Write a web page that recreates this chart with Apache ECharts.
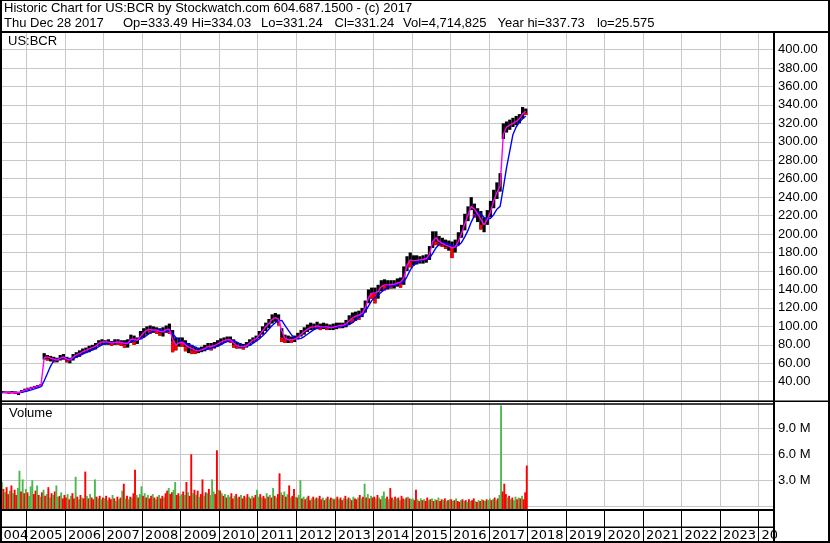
<!DOCTYPE html>
<html><head><meta charset="utf-8">
<script src="https://cdn.jsdelivr.net/npm/echarts@6/dist/echarts.min.js"></script>
<style>html,body{margin:0;padding:0;background:#fff}#c{width:830px;height:543px}</style>
</head><body><div id="c"></div>
<script>
const symbolName = 'US:BCR';
const volumeTitle = 'Volume';
const titleLine1 = 'Historic Chart for US:BCR by Stockwatch.com 604.687.1500 - (c) 2017';
const titleFields = ['Thu Dec 28 2017', 'Op=333.49', 'Hi=334.03', 'Lo=331.24', 'Cl=331.24', 'Vol=4,714,825', 'Year hi=337.73', 'lo=25.575'];

// monthly series, first month = May 2004 (last = Dec 2017)
const firstYear = 2004, firstMonthIndex = 4;
const priceLow = [
 27.5,27.5,27,27.5,27,25.6,28,29.5,
 31,32,33,34,35,64,63,62,61,61,63,64,
 61,60,63,66,67,70,71,72,74,75,79,80,
 80,80,79,80,80,79,77,77,82,80,81,86,
 88,91,92,93,92,90,89,93,92,72,74,78,
 78,73,71,70,70,71,72,73,75,74,76,78,
 80,82,83,82,77,76,76,75,77,79,82,84,
 87,91,95,98,103,105,101,83,82,82,82,83,
 86,89,91,94,96,96,97,96,97,96,96,96,
 97,98,98,99,102,104,106,107,110,115,125,130,
 125,130,138,139,140,141,141,143,142,145,160,164,
 166,167,168,168,169,172,185,188,187,186,184,182,
 174,180,188,196,204,214,226,218,213,205,202,210,
 218,228,238,246,303,310,313,316,318,320,325,329];
const priceHigh = [
 30,29.5,29.5,30,29.5,29,31,32.5,
 33.5,34.5,35.5,36.5,37.5,71,69,68,67,66,69,70,
 67,66,70,72,74,76,77,79,80,82,85,86,
 85,86,84,86,86,85,85,86,91,90,88,95,
 98,100,101,100,99,98,99,101,103,96,88,88,
 88,85,82,80,78,77,78,80,82,82,83,85,
 87,88,89,89,86,83,82,81,83,86,88,90,
 95,100,104,108,113,114.5,113,98,91,90,89,90,
 93,96,99,102,104,103,105,103,104,103,102,103,
 104,104,104,107,112,115,116,117,120,128,140,142,
 142,145,150,151,150,150,150,152,153,165,176,180,
 177,177,176,177,178,187,203,203,198,196,194,193,
 192,194,202,210,222,230,240,233,228,225,218,226,
 236,248,256,266,320,322,324,326,328,330,337.7,336];
const priceClose = [
 28.5,28.5,28,29,28,28.5,30.5,31.5,
 33,33.5,34.5,35.5,36.5,67,65,66,63,64,68,66,
 63,64,68,70,71,73,75,77,77,80,83,83,
 83,84,81,84,83,82,80,84,88,84,86,93,
 95,97,95,97,95,93,96,97,94,84,80,84,
 82,78,78,74,73,74,75,78,79,78,81,82,
 84,85,86,84,80,78,79,77,81,84,85,88,
 93,98,101,106,110,110,104,88,86,86,85,87,
 91,93,97,99,99,101,100,98,101,98,99,100,
 102,100,102,105,109,108,113,110,116,125,137,136,
 135,142,146,144,146,145,148,149,147,162,172,170,
 171,172,172,173,175,185,198,192,190,188,186,189,
 185,190,198,207,218,226,232,222,222,210,214,223,
 232,244,248,258,315,318,320,321,324,326,334,331.24];
const maFast = [
 28.6,28.4,28.2,28.5,28.4,28.0,29.5,31.0,
 32.3,33.2,34.2,35.2,36.2,66,67,65.5,64.5,63.5,65.5,67,
 64.5,63.5,66.5,69,70.5,72.5,74,75.5,77,78.5,81.5,83,
 83,83,82,82.5,83,82.5,81.5,81.5,86,86,85,89,
 93,96,96.5,96,96,94.5,94,96.5,97,86,80,82,
 83,80,77.5,76,74,73.5,74.5,76,78,78.5,79,81,
 83,84.5,85.5,85.5,82,79,78,78,79,82,85,86.5,
 90.5,95,99.5,103,107.5,109.5,107.5,95,87,85.5,85.5,86,
 88,91.5,94.5,97,99,99.5,100.5,99.5,99.5,99.5,98.5,99,
 100,101,101,102.5,106,109,111,112,114,120,131,136,
 136,138,143,145,145,145.5,145.5,147,148,152,166,172,
 171,171.5,172,172.5,173.5,178,192,196,192,190,188,187,
 185,186,192,201,211,221,230,227,222,216,210,216,
 224,236,245,252,308,316,318,320,322,325,330,333];
const maSlow = [
 28.8,28.6,28.5,28.4,28.4,28.3,28.6,29.3,
 30.2,31.2,32.3,33.5,34.8,41,49,57,63,64.5,65,65.5,
 65.5,65,65.5,66.5,68,70,71.5,73,74.5,76,78,80,
 81.5,82.5,82.5,82.5,82.5,82.5,82.5,82,83,84.5,85.5,86.5,
 88,90.5,93,95,96,96,95.5,95,95.5,92,88,85,
 83,82,80.5,79,77.5,75.5,74.5,74.5,75.5,76.5,77.5,78.5,
 80,82,83.5,84.5,84.5,83,81,79,78.5,79.5,81.5,84,
 86.5,89.5,93,97,101,104,106,106.5,101,96,91,87.5,
 86.5,87,89,91.5,94,96.5,98,99,99.5,99.5,99,99,
 99,99.5,100,101,102,104,107,109.5,112,116,122,128,
 131,134,137,140,142,143.5,144.5,145.5,146.5,148,154,161,
 166,169,171,172,172.5,174,179,185,189,190.5,190,189,
 187.5,186.5,187.5,191,197,204,213,220,223,222,218,216,
 217,221,227,230,250,272,290,308,316,321,325,328];

// half-monthly volume (millions), first half of May 2004 onward
const volumeM = [
 2.8,2.0,1.6,2.2,1.4,1.8,2.4,1.5,1.9,1.3,2.1,4.1,1.7,3.1,1.5,2.0,
 1.6,1.2,2.3,3.0,1.4,1.8,2.4,1.3,1.1,1.6,1.9,1.2,1.4,2.2,1.0,1.5,1.3,1.7,2.4,1.1,1.2,1.6,0.9,1.3,
 1.0,1.4,0.8,1.2,1.5,0.9,3.4,1.1,0.8,1.3,1.0,0.9,4.0,1.2,0.9,1.4,1.0,0.8,3.1,1.1,0.9,1.2,0.8,1.0,
 0.9,1.2,0.7,1.0,0.8,1.3,0.9,0.6,1.1,0.8,1.0,1.8,2.6,0.9,1.2,0.8,1.1,1.0,1.5,4.2,1.3,1.0,1.4,2.3,
 1.2,1.5,1.0,1.3,0.9,1.2,1.4,1.0,0.8,1.1,1.3,0.9,1.2,1.0,1.5,1.8,2.1,1.4,1.6,1.9,2.8,1.3,1.5,1.2,
 1.4,1.7,1.3,2.8,1.6,1.2,6.0,1.5,1.9,1.3,1.8,1.1,1.4,3.1,1.2,1.6,1.5,2.0,1.3,3.1,1.7,1.4,6.46,1.9,
 1.8,1.5,1.2,1.4,1.0,1.3,1.1,1.5,0.9,1.2,1.4,1.0,1.1,1.3,0.9,1.2,1.0,1.4,1.1,0.9,1.2,1.0,1.3,1.9,
 1.1,1.4,1.0,1.2,0.9,1.5,1.1,1.3,1.0,2.1,1.2,1.0,1.4,3.8,1.6,1.3,1.7,1.1,1.4,2.4,1.0,1.2,2.0,1.1,
 1.0,1.3,3.0,0.9,1.1,0.8,1.0,1.2,0.7,0.9,1.1,0.8,1.0,0.9,1.2,0.8,1.0,0.7,0.9,1.1,0.8,1.0,0.9,0.8,
 0.9,1.1,0.8,1.0,0.7,0.9,1.2,0.8,1.0,0.9,0.7,1.1,0.9,0.8,1.0,1.3,0.9,1.1,2.6,1.0,1.4,0.9,1.2,1.0,
 1.1,0.9,1.3,1.0,0.8,1.2,1.7,0.9,1.1,0.8,2.1,1.0,0.8,1.1,0.9,1.0,0.7,1.2,0.9,0.8,1.0,1.1,0.9,0.8,
 0.9,0.7,1.9,0.8,0.6,0.9,0.7,0.8,0.6,1.0,0.7,0.8,0.9,0.6,0.8,0.7,1.0,0.6,0.8,0.7,0.9,0.6,0.7,0.8,
 0.8,0.6,0.7,0.9,0.6,0.5,0.7,0.8,0.6,0.7,0.5,0.8,0.6,0.7,0.9,0.6,0.5,0.7,0.6,0.8,0.7,0.6,0.8,0.7,
 0.9,0.7,0.8,1.0,0.7,0.9,1.3,11.65,1.7,2.6,1.4,1.0,1.2,0.8,1.0,0.7,1.1,0.8,1.0,0.9,1.2,0.8,1.6,4.7];
const volumeDir =
 'grgrrgrgrrggrgrg' +
 'rgggrrgrgrgrgrgrgrggrgrr' +
 'rgrgrrgrgrgrrgrgrrgrgrgr' +
 'grgrrgrgrgrgrgrgrgrrgrgg' +
 'rgrgrrgrgrgrrgrrgrrggrrg' +
 'grgrgrrgrgrgrrgrgrgggrrg' +
 'rgrgrggrrgrgrgrrgrgrgrrg' +
 'grgrrgrgrgrgrrgrgrgrgrrg' +
 'rggrgrgrrgrgrgrrgrgrgrgr' +
 'grgrrgrgrgrgrrgrgrgrgrgr' +
 'rgrgrgggrgrrgrgrgrrgrgrg' +
 'grrgrgrgrrgrgrgrgrrgrgrg' +
 'rgrgrrgrgrgrgrrgrgrgrgrg' +
 'grgrgrggrrrgrgrggrgrgrrr';

const yearTicks = {min: 2004, max: 2024.4, step: 1};
const priceAxis = {min: 20, max: 420, step: 20};
const volumeAxis = {min: 0, max: 12, step: 3};

const monthT = i => firstYear + (firstMonthIndex + i + 0.5) / 12;
const halfT = k => firstYear + firstMonthIndex / 12 + (k + 0.5) / 24;

const barData = priceLow.map((lo, i) => [monthT(i), lo, priceHigh[i], priceClose[i], i > 0 ? priceClose[i - 1] : priceClose[i]]);
const fastData = maFast.map((v, i) => [monthT(i), v]);
const slowData = maSlow.map((v, i) => [monthT(i), v]);
const volData = volumeM.map((v, k) => [halfT(k), v, volumeDir[k] === 'g' ? 1 : 0]);

const FONT = 'Liberation Sans, Arial, sans-serif';
const YEAR_FONT = 'DejaVu Sans, sans-serif';
const GRID_LEFT = -12, GRID_W = 786;
const gridColor = '#c8c8c8';
const fieldX = [4, 123, 191.5, 261, 334.5, 403, 497.5, 597];

const chart = echarts.init(document.getElementById('c'), null, {renderer: 'canvas'});

function rect(x, y, w, h, fill) {
  return {type: 'rect', z: 100, silent: true, shape: {x, y, width: w, height: h}, style: {fill: fill || '#000'}};
}
function text(t, x, y, size) {
  return {type: 'text', z: 101, silent: true, style: {text: t, x, y, fill: '#000', font: (size || 13) + 'px ' + FONT, verticalAlign: 'middle', align: 'left'}};
}

const xBase = {
  type: 'value', min: yearTicks.min, max: yearTicks.max, interval: yearTicks.step,
  axisLine: {show: false}, axisTick: {show: false},
  splitLine: {show: true, lineStyle: {color: gridColor, width: 1}},
  axisLabel: {show: false}
};
const gridBase = {left: GRID_LEFT, width: GRID_W, containLabel: false, outerBoundsMode: 'none'};

chart.setOption({
  animation: false,
  backgroundColor: '#fff',
  grid: [
    Object.assign({}, gridBase, {top: 31.04, height: 369.16}),
    Object.assign({}, gridBase, {top: 402.4, height: 103.8}),
    Object.assign({}, gridBase, {top: 511, height: 30})
  ],
  xAxis: [
    Object.assign({}, xBase, {gridIndex: 0}),
    Object.assign({}, xBase, {gridIndex: 1, axisLabel: {
      show: true, color: '#000', fontSize: 13, fontFamily: YEAR_FONT, align: 'left', verticalAlign: 'middle',
      margin: 29, padding: [0, 0, 0, 3], showMinLabel: true, showMaxLabel: false, hideOverlap: false,
      formatter: v => {
        if (Math.abs(v - Math.round(v)) > 1e-6) return '';
        const y = Math.round(v);
        return (y === yearTicks.min ? '\u00a0' : '') + y;
      }
    }}),
    Object.assign({}, xBase, {gridIndex: 2, splitLine: {show: true, lineStyle: {color: '#000', width: 1}}})
  ],
  yAxis: [
    {gridIndex: 0, type: 'value', position: 'right', min: priceAxis.min, max: priceAxis.max, interval: priceAxis.step,
     axisLine: {show: false}, axisTick: {show: false},
     splitLine: {show: true, lineStyle: {color: gridColor, width: 1}},
     axisLabel: {show: true, color: '#000', fontSize: 13, fontFamily: FONT, margin: 4, align: 'left',
       formatter: v => (v >= 40 && v <= 400) ? v.toFixed(2) : ''}},
    {gridIndex: 1, type: 'value', position: 'right', min: volumeAxis.min, max: volumeAxis.max, interval: volumeAxis.step,
     axisLine: {show: false}, axisTick: {show: false},
     splitLine: {show: true, lineStyle: {color: [gridColor, gridColor, gridColor, gridColor, 'rgba(0,0,0,0)']}},
     axisLabel: {show: true, color: '#000', fontSize: 13, fontFamily: FONT, margin: 4, align: 'left',
       formatter: v => (v > 0 && v < 12) ? v.toFixed(1) + ' M' : ''}},
    {gridIndex: 2, type: 'value', show: false, min: 0, max: 1}
  ],
  series: [
    {
      type: 'custom', xAxisIndex: 0, yAxisIndex: 0, data: barData, z: 2,
      renderItem: (params, api) => {
        const t = api.value(0), lo = api.value(1), hi = api.value(2), cl = api.value(3), pc = api.value(4);
        const pLo = api.coord([t, lo]), pHi = api.coord([t, hi]), pCl = api.coord([t, cl]);
        const w = api.size([1 / 12, 0])[0];
        const x = pLo[0] - w / 2;
        const children = [{type: 'rect', shape: {x, y: pHi[1], width: w, height: Math.max(1, pLo[1] - pHi[1])}, style: {fill: '#000'}}];
        if (cl < pc) children.push({type: 'rect', shape: {x, y: pCl[1], width: w, height: Math.max(1, pLo[1] - pCl[1])}, style: {fill: '#ff0000'}});
        return {type: 'group', children};
      }
    },
    {type: 'line', xAxisIndex: 0, yAxisIndex: 0, data: slowData, showSymbol: false, z: 3,
     lineStyle: {color: '#0000ff', width: 1.4}, itemStyle: {color: '#0000ff'}},
    {type: 'line', xAxisIndex: 0, yAxisIndex: 0, data: fastData, showSymbol: false, z: 4,
     lineStyle: {color: '#ff00ff', width: 1.4}, itemStyle: {color: '#ff00ff'}},
    {
      type: 'custom', xAxisIndex: 1, yAxisIndex: 1, data: volData, z: 2, clip: false,
      renderItem: (params, api) => {
        const t = api.value(0), v = api.value(1), g = api.value(2);
        const p = api.coord([t, v]);
        const w = api.size([1 / 24, 0])[0];
        const bottom = params.coordSys.y + params.coordSys.height + 2.8;
        return {type: 'rect', shape: {x: p[0] - w / 2, y: p[1], width: w + 0.3, height: bottom - p[1]},
          style: {fill: g ? '#4cb84c' : '#ff0000'}};
      }
    }
  ],
  graphic: [
    rect(777, 511, 51, 30, '#fff'),
    rect(0, 0, 830, 1),
    rect(0, 0, 2, 543),
    rect(828, 0, 2, 543),
    rect(0, 541, 830, 2),
    rect(0, 31, 830, 2),
    rect(773, 31, 2, 512),
    rect(0, 400.5, 830, 1.5),
    rect(0, 403.3, 774, 1.4),
    rect(0, 509, 774, 2),
    rect(0, 526.5, 774, 1.5),
    text(titleLine1, 4, 8),
    ...titleFields.map((f, i) => text(f, fieldX[i], 23)),
    text(symbolName, 8, 41),
    text(volumeTitle, 9, 413)
  ]
});
</script></body></html>
